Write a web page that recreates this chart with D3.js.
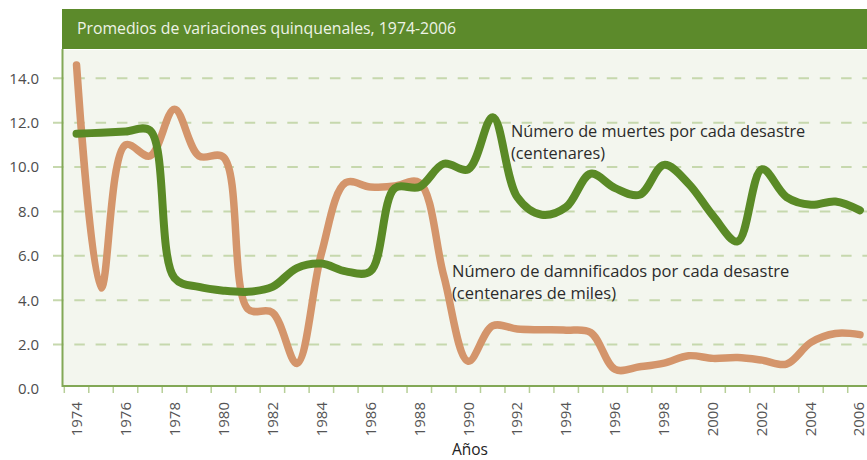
<!DOCTYPE html>
<html>
<head>
<meta charset="utf-8">
<script src="https://cdn.jsdelivr.net/npm/d3@7"></script>
<style>
  html, body { margin: 0; padding: 0; background: #fff; }
  svg { display: block; font-family: "Open Sans", "Noto Sans", sans-serif; }
</style>
</head>
<body>
<svg id="chart" width="867" height="460"></svg>
<script>
// years on the x axis (one band per year)
const years = [1974, 1975, 1976, 1977, 1978, 1979, 1980, 1981, 1982, 1983, 1984,
  1985, 1986, 1987, 1988, 1989, 1990, 1991, 1992, 1993, 1994, 1995, 1996,
  1997, 1998, 1999, 2000, 2001, 2002, 2003, 2004, 2005, 2006]

// Número de muertes por cada desastre (centenares)
const muertes = [11.5, 11.55, 11.6, 11.65, 5.0, 4.6, 4.43, 4.38, 4.6, 5.45, 5.65,
  5.3, 5.3, 9.05, 9.1, 10.15, 9.9, 12.25, 8.65, 7.85, 8.2, 9.7, 9.05,
  8.75, 10.1, 9.25, 7.8, 6.65, 9.9, 8.65, 8.3, 8.45, 8.05]

// Número de damnificados por cada desastre (centenares de miles)
const damnificados = [14.6, 4.55, 11.0, 10.5, 12.6, 10.5, 10.45, 3.6, 3.45, 1.15, 6.1,
  9.3, 9.1, 9.15, 9.3, 5.1, 1.25, 2.85, 2.7, 2.67, 2.65, 2.55, 0.88,
  1.0, 1.17, 1.5, 1.38, 1.42, 1.3, 1.12, 2.1, 2.5, 2.45]

const yTicks = [0, 2, 4, 6, 8, 10, 12, 14]
const labelYears = years.filter(d => d % 2 === 0)

const title = "Promedios de variaciones quinquenales, 1974-2006"
const xTitle = "Años"

const svg = d3.select("#chart")
const plot = { left: 62, top: 49, right: 867, bottom: 386 }

// scales
const x = d3.scaleBand().domain(years).range([64.3, 872.2]).padding(0)
const y = d3.scaleLinear().domain([0, 14]).range([389, 78.3])
const cx = d => x(d) + x.bandwidth() / 2

// title bar
svg.append("rect")
  .attr("x", plot.left).attr("y", 9)
  .attr("width", 867 - plot.left).attr("height", 40)
  .attr("fill", "#5c8a2b")

svg.append("text")
  .attr("x", 77).attr("y", 33.5)
  .attr("fill", "#eef3e6")
  .attr("font-size", 15.8)
  .text(title)

// plot background
svg.append("rect")
  .attr("x", plot.left).attr("y", plot.top + 1)
  .attr("width", 867 - plot.left).attr("height", plot.bottom - plot.top - 1)
  .attr("fill", "#f3f6ee")

// grid lines
svg.append("g")
  .selectAll("line")
  .data(yTicks.filter(d => d > 0))
  .join("line")
  .attr("x1", 53).attr("x2", 867)
  .attr("y1", d => y(d)).attr("y2", d => y(d))
  .attr("stroke", "#c6d8ad")
  .attr("stroke-width", 2)
  .attr("stroke-dasharray", "10.5,10.8")

// y axis labels
const yAxis = svg.append("g")
  .attr("transform", "translate(39,0)")
  .call(d3.axisLeft(y).tickValues(yTicks).tickFormat(d3.format(".1f")).tickSize(0).tickPadding(0))
yAxis.select(".domain").remove()
yAxis.selectAll("text")
  .attr("fill", "#4d4d4d")
  .attr("font-size", 15)
  .attr("font-family", "Open Sans, sans-serif")

// x ticks at band edges
svg.append("g")
  .selectAll("line")
  .data(years.map(d => x(d)).concat([x.range()[1]]))
  .join("line")
  .attr("x1", d => d).attr("x2", d => d)
  .attr("y1", plot.bottom).attr("y2", plot.bottom + 7)
  .attr("stroke", "#b7cf98")
  .attr("stroke-width", 1.5)

// axis lines
svg.append("line")
  .attr("x1", 62.5).attr("x2", 62.5)
  .attr("y1", plot.top).attr("y2", plot.bottom + 1)
  .attr("stroke", "#82a856").attr("stroke-width", 2)
svg.append("line")
  .attr("x1", 62).attr("x2", 867)
  .attr("y1", plot.bottom).attr("y2", plot.bottom)
  .attr("stroke", "#82a856").attr("stroke-width", 2)

// x labels (rotated), the last one nudged so it stays inside the frame
svg.append("g")
  .selectAll("text")
  .data(labelYears)
  .join("text")
  .attr("transform", d => `translate(${Math.min(cx(d), 858.5)},402) rotate(-90)`)
  .attr("text-anchor", "end")
  .attr("dy", "0.35em")
  .attr("fill", "#555")
  .attr("font-size", 15)
  .text(d => d)

svg.append("text")
  .attr("x", 470).attr("y", 455)
  .attr("text-anchor", "middle")
  .attr("fill", "#222")
  .attr("font-size", 15.5)
  .text(xTitle)

// lines
const line = values => d3.line()
  .x((d, i) => cx(years[i]))
  .y(d => y(d))
  .curve(d3.curveCatmullRom.alpha(0.5))(values)

svg.append("path")
  .attr("d", line(damnificados))
  .attr("fill", "none")
  .attr("stroke", "#d4956b")
  .attr("stroke-width", 7.5)
  .attr("stroke-linecap", "round")
  .attr("stroke-linejoin", "round")

svg.append("path")
  .attr("d", line(muertes))
  .attr("fill", "none")
  .attr("stroke", "#5a8a26")
  .attr("stroke-width", 8)
  .attr("stroke-linecap", "round")
  .attr("stroke-linejoin", "round")

// annotations
const notes = [
  { x: 511, y: 137, size: 16.3, lines: ["Número de muertes por cada desastre", "(centenares)"] },
  { x: 452, y: 277, size: 16.5, lines: ["Número de damnificados por cada desastre", "(centenares de miles)"] }
]
notes.forEach(n => {
  const t = svg.append("text")
    .attr("x", n.x).attr("y", n.y)
    .attr("fill", "#2b2b2b")
    .attr("font-size", n.size)
  n.lines.forEach((s, i) => {
    t.append("tspan").attr("x", n.x).attr("dy", i === 0 ? 0 : 21.5).text(s)
  })
})
</script>
</body>
</html>
